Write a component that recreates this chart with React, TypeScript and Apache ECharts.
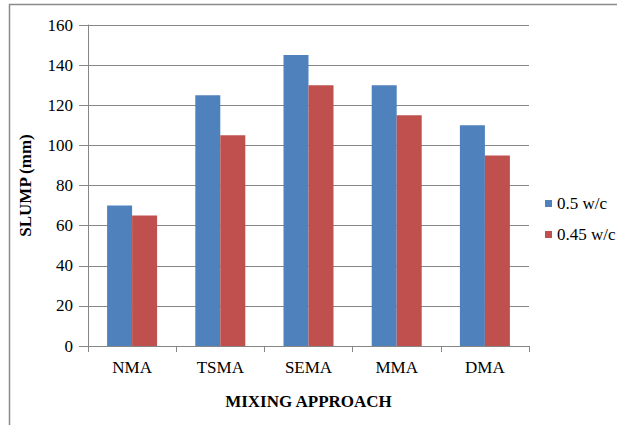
import React, { useEffect, useRef } from "react";
import * as echarts from "echarts";

const categories = ["NMA", "TSMA", "SEMA", "MMA", "DMA"];
const series05 = [70, 125, 145, 130, 110];
const series045 = [65, 105, 130, 115, 95];
const seriesNames = ["0.5 w/c", "0.45 w/c"];

export default function App() {
  const ref = useRef<HTMLDivElement>(null);
  useEffect(() => {
    const chart = echarts.init(ref.current!, null, { renderer: "svg" });
    const font = "Liberation Serif";
    chart.setOption({
      animation: false,
      backgroundColor: "#ffffff",
      textStyle: { fontFamily: font },
      graphic: [
        {
          type: "rect",
          shape: { x: 9.5, y: 4.5, width: 700, height: 500 },
          style: { fill: "none", stroke: "#8a8a8a", lineWidth: 1.5 },
          silent: true,
        },
      ],
      grid: { left: 88, right: 88, top: 25, bottom: 79 },
      legend: {
        orient: "vertical",
        left: 545,
        top: 195,
        padding: 0,
        itemWidth: 7,
        itemHeight: 7,
        itemGap: 14,
        icon: "rect",
        textStyle: { fontFamily: font, fontSize: 17, color: "#000" },
        data: seriesNames,
      },
      xAxis: {
        type: "category",
        data: categories,
        name: "MIXING APPROACH",
        nameLocation: "middle",
        nameGap: 47,
        nameMoveOverlap: false,
        nameTextStyle: { fontFamily: font, fontSize: 17, fontWeight: "bold", color: "#000" },
        axisLine: { lineStyle: { color: "#868686", width: 1 } },
        axisTick: { show: true, length: 6, lineStyle: { color: "#868686" } },
        axisLabel: { fontFamily: font, fontSize: 17, color: "#000", margin: 13 },
      },
      yAxis: {
        type: "value",
        min: 0,
        max: 160,
        interval: 20,
        name: "SLUMP (mm)",
        nameLocation: "middle",
        nameGap: 54,
        nameMoveOverlap: false,
        nameTextStyle: { fontFamily: font, fontSize: 17, fontWeight: "bold", color: "#000" },
        axisLine: { show: true, lineStyle: { color: "#868686", width: 1 } },
        axisTick: { show: true, length: 9, lineStyle: { color: "#868686" } },
        axisLabel: { fontFamily: font, fontSize: 17, color: "#000", margin: 15 },
        splitLine: { show: true, lineStyle: { color: "#868686", width: 1 } },
      },
      series: [
        {
          name: seriesNames[0],
          type: "bar",
          data: series05,
          barWidth: 25,
          barGap: "0%",
          itemStyle: { color: "#4F81BD" },
        },
        {
          name: seriesNames[1],
          type: "bar",
          data: series045,
          barWidth: 25,
          barGap: "0%",
          itemStyle: { color: "#C0504D" },
        },
      ],
    });
    return () => chart.dispose();
  }, []);
  return (
    <div
      ref={ref}
      style={{ position: "fixed", left: 0, top: 0, width: 617, height: 425 }}
    />
  );
}
